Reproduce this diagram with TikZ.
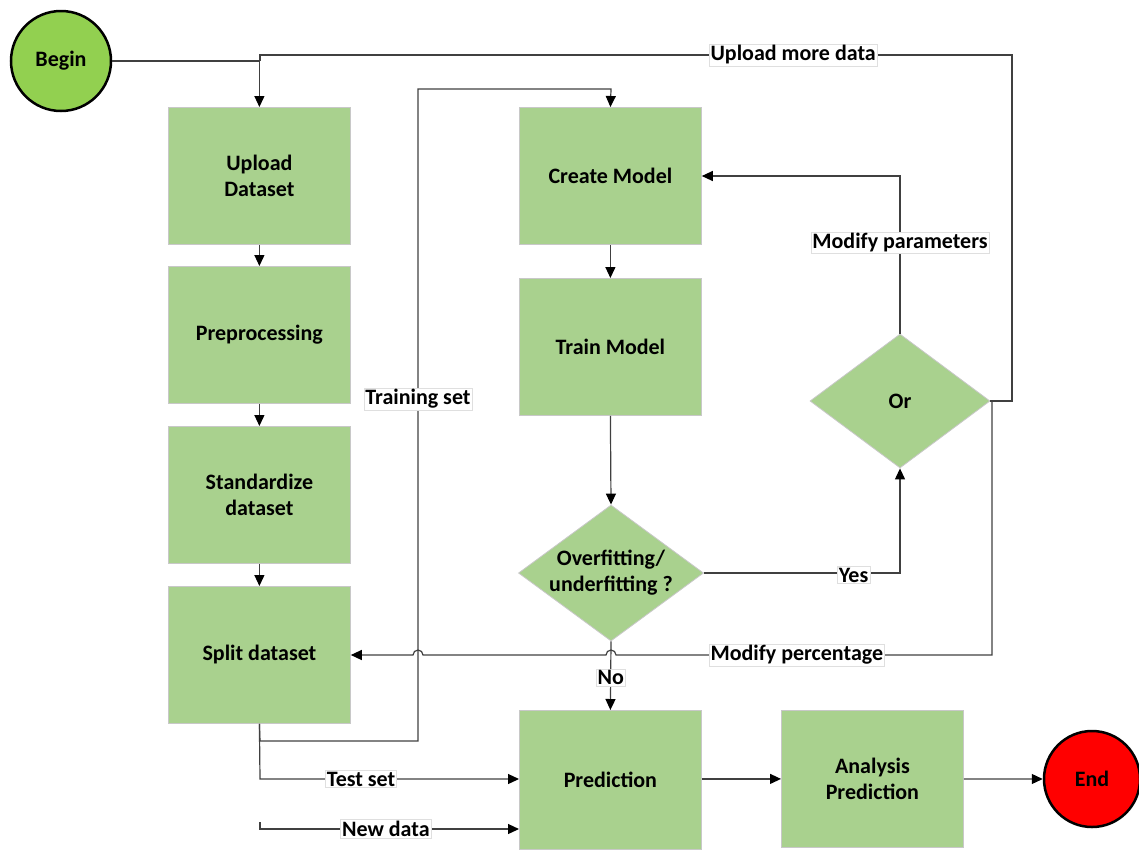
\documentclass[tikz,border=0pt]{standalone}
\usepackage{fontspec}
\setmainfont{Carlito}
\usetikzlibrary{shapes.geometric,arrows.meta,calc}
\definecolor{boxfill}{HTML}{A9D18E}
\definecolor{boxline}{HTML}{C8C8C8}
\definecolor{linec}{HTML}{404040}
\definecolor{begfill}{HTML}{92D050}
\definecolor{endfill}{HTML}{FF0000}
\begin{document}
\begin{tikzpicture}[x=1pt,y=-1pt,
  font=\fontsize{22}{26}\selectfont\bfseries,
  box/.style={draw=boxline, fill=boxfill, line width=0.8pt, minimum width=182pt, minimum height=137pt, inner sep=0pt, align=center, anchor=north west},
  dia/.style={diamond, draw=boxline, fill=boxfill, line width=0.8pt, minimum width=182pt, minimum height=134pt, inner sep=0pt, aspect=1.36, align=center},
  term/.style={circle, draw=black, line width=2.5pt, inner sep=0pt},
  ln/.style={draw=linec, line width=1.2pt},
  arr/.style={ln, -{Triangle[length=11pt,width=10pt,color=black]}},
  lbl/.style={fill=white, draw=gray!25, line width=0.6pt, inner sep=1.5pt}
]
\useasboundingbox (0,0) rectangle (1139,849);

% nodes
\node[term, fill=begfill, minimum size=100pt] (begin) at (61,61) {Begin};
\node[box] (upload) at (168,107) {Upload\\Dataset};
\node[box] (prep) at (168,266) {Preprocessing};
\node[box] (std) at (168,426) {Standardize\\dataset};
\node[box] (split) at (168,586) {Split dataset};
\node[box] (create) at (519,107) {Create Model};
\node[box] (train) at (519,278) {Train Model};
\node[dia] (ovf) at (611,573) {Overfitting/\\underfitting ?};
\node[dia, minimum width=180pt] (or) at (900,401) {Or};
\node[box, minimum height=139pt] (pred) at (519,710) {Prediction};
\node[box] (ana) at (781,710) {Analysis\\Prediction};
\node[term, fill=endfill, minimum size=96pt] (end) at (1092,779) {End};

% helper coordinates
\coordinate (um1) at (1012,401);
\coordinate (um2) at (1012,55);
\coordinate (um3) at (260,55);
\coordinate (um4) at (260,61);
\coordinate (tr1) at (260,741);
\coordinate (tr2) at (418,741);
\coordinate (tr3) at (418,89);
\coordinate (tr4) at (611,89);
\coordinate (ts1) at (260,779);
\coordinate (nd0) at (260,822);
\coordinate (nd1) at (260,829);
\coordinate (mp1) at (992,401);
\coordinate (mp2) at (992,655);
\coordinate (mp3) at (616,655);
\coordinate (mp4) at (423,655);
\coordinate (yes1) at (900,573);
\coordinate (par1) at (900,176);

% connectors
\draw[arr] (begin.east) -| (upload.north);
\draw[ln] (or.east) -- (um1) -- (um2) -- node[lbl, pos=0.291] {Upload more data} (um3) -- (um4);
\draw[arr] (upload.south) -- (prep.north);
\draw[arr] (prep.south) -- (std.north);
\draw[arr] (std.south) -- (split.north);
\draw[arr] (split.south) -- (tr1) -- (tr2) -- node[lbl, pos=0.5245] {Training set} (tr3) -- (tr4) -- (create.north);
\draw[arr] (split.south) -- (ts1) -- node[lbl, pos=0.39] {Test set} (ts1 -| pred.west);
\draw[arr] (nd0) -- (nd1) -- node[lbl, pos=0.486] {New data} (nd1 -| pred.west);
\draw[arr] (create.south) -- (train.north);
\draw[arr] (train.south) -- (ovf.north);
\draw[arr] (ovf.east) -- node[lbl, pos=0.763, yshift=-2pt] {Yes} (yes1) -- (or.south);
\draw[arr] (or.north) -- node[lbl, pos=0.576] {Modify parameters} (par1) -- (create.east |- par1);
\draw[arr] (or.east) -- (mp1) -- (mp2) -- node[lbl, pos=0.519] {Modify percentage} (mp3)
   arc[start angle=0, end angle=180, radius=5pt] -- (mp4)
   arc[start angle=0, end angle=180, radius=5pt] -- (split.east |- mp2);
\draw[arr] (ovf.south) -- node[lbl, pos=0.53] {No} (pred.north);
\draw[arr] (pred.east |- ana.west) -- (ana.west);
\draw[arr] (ana.east) -- (end.west);
\end{tikzpicture}
\end{document}
